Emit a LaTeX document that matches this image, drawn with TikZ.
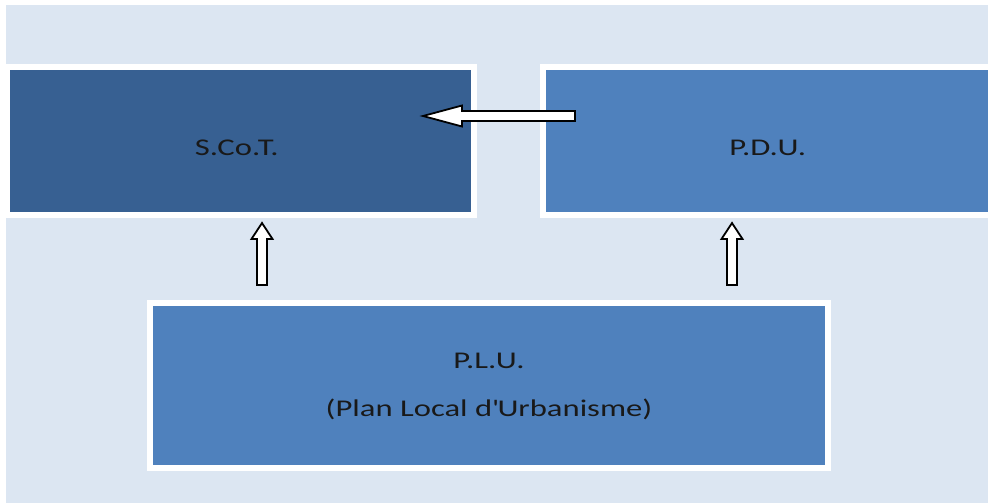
\documentclass[tikz,border=0pt]{standalone}
\usepackage{fontspec}
\setmainfont{Carlito}[FakeStretch=1.36]
\usetikzlibrary{calc, positioning}

\definecolor{back}{HTML}{DCE6F2}
\definecolor{darkbox}{HTML}{376092}
\definecolor{midbox}{HTML}{4F81BD}

\tikzset{
    box/.style={draw=white, line width=6pt, inner sep=0pt, align=center,
        font=\fontsize{24}{48}\selectfont, text=black!90},
    oneline/.style={text height=28pt, text depth=0pt},
    twoline/.style={text height=61pt, text depth=0pt},
    blockarrow/.style={draw=black, fill=white, line width=1.8pt, line join=miter, to path={
        ($(\tikztostart)!5pt!90:(\tikztotarget)$)
        -- ($(\tikztotarget)!#1!(\tikztostart)!5pt!-90:(\tikztostart)$)
        -- ($(\tikztotarget)!#1!(\tikztostart)!10.5pt!-90:(\tikztostart)$)
        -- (\tikztotarget)
        -- ($(\tikztotarget)!#1!(\tikztostart)!10.5pt!90:(\tikztostart)$)
        -- ($(\tikztotarget)!#1!(\tikztostart)!5pt!90:(\tikztostart)$)
        -- ($(\tikztostart)!5pt!-90:(\tikztotarget)$) -- cycle}},
    blockarrow/.default=16pt
}

\begin{document}
\begin{tikzpicture}[x=1pt, y=-1pt]
                    \useasboundingbox (0, 0) rectangle (988, 503);
                    \fill [back] (6, 5) rectangle (988, 503);

                    \node [box, oneline, fill=darkbox, minimum width=467, minimum height=148] (Scot) at (240.5, 141) { S.Co.T. };
                    \node [box, oneline, fill=midbox, minimum width=457, minimum height=148] (Pdu) at (771.5, 141) { P.D.U. };
                    \node [box, twoline, fill=midbox, minimum width=678, minimum height=165] (Plu) at (489, 385.5) { P.L.U.\\(Plan Local d\textquotesingle Urbanisme) };

                    \coordinate (Hs) at (575, 116);
                    \coordinate (Ht) at (423, 116);
                    \coordinate (Ls) at (262, 285);
                    \coordinate (Lt) at (262, 223);
                    \coordinate (Rs) at (732, 285);
                    \coordinate (Rt) at (732, 223);

                    \draw [blockarrow=39pt] (Hs) to (Ht);
                    \draw [blockarrow] (Ls) to (Lt);
                    \draw [blockarrow] (Rs) to (Rt);
            \end{tikzpicture}
\end{document}
